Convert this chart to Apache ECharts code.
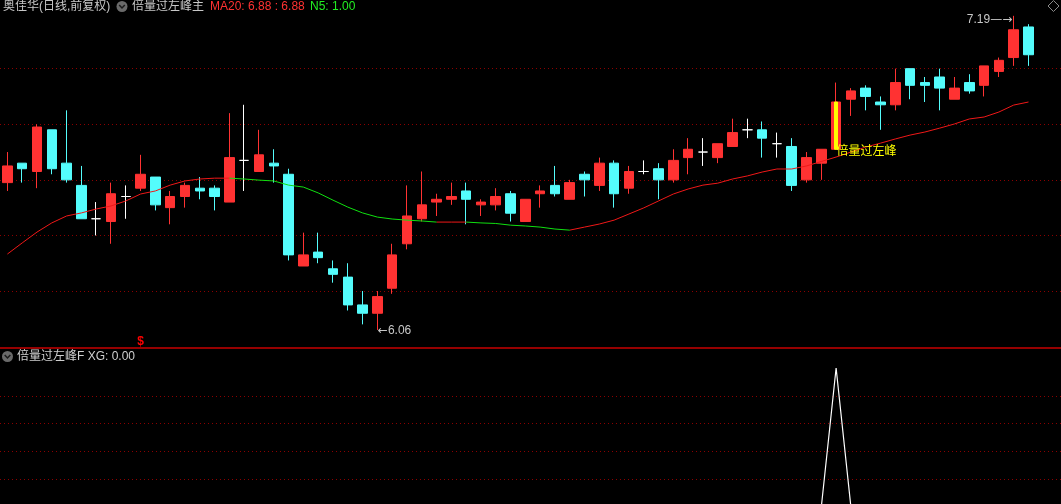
<!DOCTYPE html>
<html>
<head>
<meta charset="utf-8">
<script src="https://cdn.jsdelivr.net/npm/echarts@6/dist/echarts.min.js"></script>
<style>
html, body { margin: 0; padding: 0; background: #000; }
#main { width: 1061px; height: 504px; }
</style>
</head>
<body>
<div id="main"></div>
<script>
// daily bars, oldest first
const open = [6.59, 6.66, 6.63, 6.78, 6.66, 6.58, 6.46, 6.45, 6.54, 6.57,
	6.61, 6.50, 6.54, 6.57, 6.57, 6.52, 6.67, 6.63, 6.66, 6.62,
	6.29, 6.34, 6.28, 6.25, 6.15, 6.12, 6.21, 6.37, 6.46, 6.52,
	6.53, 6.56, 6.51, 6.51, 6.55, 6.45, 6.55, 6.58, 6.53, 6.62,
	6.58, 6.66, 6.57, 6.63, 6.64, 6.60, 6.68, 6.70, 6.68, 6.72,
	6.78, 6.78, 6.73, 6.72, 6.60, 6.66, 6.71, 6.89, 6.93, 6.88,
	6.87, 7.00, 6.95, 6.97, 6.89, 6.95, 6.94, 6.99, 7.04, 7.15];
const close = [6.65, 6.64, 6.79, 6.64, 6.60, 6.46, 6.46, 6.55, 6.54, 6.62,
	6.51, 6.54, 6.58, 6.56, 6.54, 6.68, 6.67, 6.69, 6.65, 6.33,
	6.33, 6.32, 6.26, 6.15, 6.12, 6.18, 6.33, 6.47, 6.51, 6.53,
	6.54, 6.53, 6.52, 6.54, 6.48, 6.53, 6.56, 6.55, 6.59, 6.60,
	6.66, 6.55, 6.63, 6.63, 6.60, 6.67, 6.71, 6.70, 6.73, 6.77,
	6.78, 6.75, 6.73, 6.58, 6.68, 6.71, 6.88, 6.92, 6.90, 6.87,
	6.95, 6.94, 6.94, 6.93, 6.93, 6.92, 7.01, 7.03, 7.14, 7.05];
const low = [6.56, 6.59, 6.57, 6.62, 6.59, 6.46, 6.40, 6.37, 6.46, 6.56,
	6.49, 6.44, 6.50, 6.53, 6.49, 6.52, 6.56, 6.63, 6.59, 6.31,
	6.29, 6.30, 6.23, 6.13, 6.08, 6.06, 6.19, 6.35, 6.45, 6.47,
	6.51, 6.44, 6.47, 6.49, 6.45, 6.45, 6.50, 6.54, 6.53, 6.54,
	6.56, 6.50, 6.55, 6.62, 6.53, 6.59, 6.62, 6.65, 6.66, 6.72,
	6.75, 6.68, 6.68, 6.56, 6.59, 6.60, 6.71, 6.83, 6.85, 6.78,
	6.85, 6.89, 6.88, 6.85, 6.89, 6.91, 6.90, 6.97, 7.01, 7.01];
const high = [6.70, 6.66, 6.80, 6.78, 6.85, 6.65, 6.52, 6.59, 6.58, 6.69,
	6.61, 6.56, 6.59, 6.61, 6.58, 6.84, 6.87, 6.78, 6.71, 6.64,
	6.41, 6.41, 6.31, 6.30, 6.20, 6.20, 6.37, 6.58, 6.63, 6.55,
	6.59, 6.59, 6.53, 6.57, 6.56, 6.53, 6.58, 6.65, 6.60, 6.63,
	6.68, 6.67, 6.65, 6.67, 6.66, 6.71, 6.75, 6.75, 6.73, 6.82,
	6.82, 6.81, 6.77, 6.75, 6.70, 6.71, 6.95, 6.93, 6.94, 6.90,
	7.00, 7.00, 6.97, 7.00, 6.97, 6.98, 7.01, 7.04, 7.19, 7.16];
// MA20
const ma20 = [6.333, 6.373, 6.412, 6.445, 6.470, 6.481, 6.495, 6.506, 6.524, 6.549,
	6.560, 6.581, 6.596, 6.603, 6.606, 6.606, 6.603, 6.599, 6.596, 6.581,
	6.574, 6.553, 6.527, 6.502, 6.481, 6.466, 6.459, 6.455, 6.452, 6.448,
	6.448, 6.448, 6.445, 6.443, 6.437, 6.434, 6.430, 6.423, 6.419, 6.430,
	6.441, 6.455, 6.477, 6.499, 6.524, 6.549, 6.567, 6.581, 6.588, 6.603,
	6.614, 6.628, 6.639, 6.639, 6.650, 6.666, 6.682, 6.700, 6.718, 6.732,
	6.747, 6.761, 6.772, 6.786, 6.801, 6.819, 6.826, 6.844, 6.869, 6.880];
// XG signal (倍量过左峰F)
const xg = [0, 0, 0, 0, 0, 0, 0, 0, 0, 0,
	0, 0, 0, 0, 0, 0, 0, 0, 0, 0,
	0, 0, 0, 0, 0, 0, 0, 0, 0, 0,
	0, 0, 0, 0, 0, 0, 0, 0, 0, 0,
	0, 0, 0, 0, 0, 0, 0, 0, 0, 0,
	0, 0, 0, 0, 0, 0, 1, 0, 0, 0,
	0, 0, 0, 0, 0, 0, 0, 0, 0, 0];
const priceLevels = [6.2, 6.4, 6.6, 6.8, 7.0];
const xgLevels = [0.2, 0.4, 0.6, 0.8];
const n5Value = 1.00;
const dividendIdx = 9;

const UP = '#FF3232', DOWN = '#54FCFC';
const FONT = '12px "Liberation Sans", "Noto Sans CJK SC", sans-serif';
const priceMin = 5.995, priceMax = 7.247;
// sub pane: zero sits just below the bottom edge, so it is clipped
const xgMin = 0.0216, xgMax = 1.144;
const mainTop = 0, mainH = 348, subTop = 348, subH = 156;
const gLeft = -1.41, gWidth = 1037.3;

let idx = open.map((v, i) => String(i));
let kData = open.map((o, i) => [o, close[i], low[i], high[i]]);
let sigData = xg.map((v, i) => v ? [open[i], close[i], open[i], close[i]] : ['-', '-', '-', '-']);
let sigIdx = xg.indexOf(1);

// MA line colour: red when not falling, green when falling
let maRed = [], maGreen = [];
let segUp = ma20.map((v, i) => i > 0 ? v >= ma20[i - 1] : null);
for (let i = 0; i < ma20.length; i++) {
	let inRed = (segUp[i] === true) || (segUp[i + 1] === true);
	let inGreen = (segUp[i] === false) || (segUp[i + 1] === false);
	maRed.push(inRed ? ma20[i] : null);
	maGreen.push(inGreen ? ma20[i] : null);
}

let hiVal = Math.max(...high), hiIdx = high.indexOf(hiVal);
let loVal = Math.min(...low), loIdx = low.indexOf(loVal);
let lastMa = ma20[ma20.length - 1].toFixed(2);

// pixel band for dotted helper grids
let pTop = mainTop + (priceMax - priceLevels[priceLevels.length - 1]) / (priceMax - priceMin) * mainH;
let pH = (priceLevels[priceLevels.length - 1] - priceLevels[0]) / (priceMax - priceMin) * mainH;
let xTop = subTop + (xgMax - xgLevels[xgLevels.length - 1]) / (xgMax - xgMin) * subH;
let xH = (xgLevels[xgLevels.length - 1] - xgLevels[0]) / (xgMax - xgMin) * subH;

const dotted = { show: true, lineStyle: { color: '#8C0000', width: 1, type: [1, 3] } };
const hiddenY = { show: false, axisLine: { show: false }, splitLine: { show: false } };
const arrowRich = { a: { fontFamily: 'DejaVu Sans', fontSize: 12, color: '#C8C8C8' } };

let chart = echarts.init(document.getElementById('main'));
let option = {
	backgroundColor: '#000',
	animation: false,
	grid: [
		{ left: gLeft, width: gWidth, top: mainTop, height: mainH },
		{ left: gLeft, width: gWidth, top: subTop, height: subH },
		{ left: 0, right: 0, top: pTop, height: pH },
		{ left: 0, right: 0, top: xTop, height: xH }
	],
	xAxis: [
		{ type: 'category', gridIndex: 0, data: idx, boundaryGap: true, show: false },
		{ type: 'category', gridIndex: 1, data: idx, boundaryGap: true, show: false },
		{ type: 'value', gridIndex: 2, min: 0, max: 1, show: false },
		{ type: 'value', gridIndex: 3, min: 0, max: 1, show: false }
	],
	yAxis: [
		Object.assign({ type: 'value', gridIndex: 0, min: priceMin, max: priceMax }, hiddenY),
		Object.assign({ type: 'value', gridIndex: 1, min: xgMin, max: xgMax }, hiddenY),
		{ type: 'value', gridIndex: 2, min: priceLevels[0], max: priceLevels[priceLevels.length - 1], interval: 0.2,
			axisLine: { show: false }, axisTick: { show: false }, axisLabel: { show: false }, splitLine: dotted },
		{ type: 'value', gridIndex: 3, min: xgLevels[0], max: xgLevels[xgLevels.length - 1], interval: 0.2,
			axisLine: { show: false }, axisTick: { show: false }, axisLabel: { show: false }, splitLine: dotted }
	],
	series: [
		{
			name: 'K', type: 'candlestick', xAxisIndex: 0, yAxisIndex: 0,
			data: kData, barWidth: 10,
			itemStyle: { color: UP, color0: DOWN, borderColor: UP, borderColor0: DOWN, borderColorDoji: '#FFFFFF', borderWidth: 1 },
			markPoint: {
				symbol: 'circle', symbolSize: 1, itemStyle: { color: 'rgba(0,0,0,0)' },
				data: [
					{ coord: [hiIdx, hiVal], label: { show: true, position: 'left', distance: 1, offset: [0, 4],
						formatter: hiVal.toFixed(2) + '{a|—→}', color: '#C8C8C8', font: FONT, rich: arrowRich } },
					{ coord: [loIdx, loVal], label: { show: true, position: 'right', distance: 0, offset: [0, 1],
						formatter: '{a|←}' + loVal.toFixed(2), color: '#C8C8C8', font: FONT, rich: arrowRich } },
					{ coord: [dividendIdx, priceMin], label: { show: true, position: 'top', distance: 0,
						formatter: '$', color: '#FF0000', fontWeight: 'bold', fontSize: 12, fontFamily: 'Liberation Sans' } }
				]
			}
		},
		{
			name: 'signal', type: 'candlestick', xAxisIndex: 0, yAxisIndex: 0,
			data: sigData, barWidth: 4,
			itemStyle: { color: '#FFFF00', color0: '#FFFF00', borderColor: '#FFFF00', borderColor0: '#FFFF00', borderWidth: 1 },
			markPoint: {
				symbol: 'circle', symbolSize: 1, itemStyle: { color: 'rgba(0,0,0,0)' },
				data: [
					{ coord: [sigIdx, low[sigIdx]], label: { show: true, position: 'right', distance: 0, offset: [0, 1],
						formatter: '倍量过左峰', color: '#FFFF00', fontSize: 12, fontFamily: 'Noto Sans CJK SC' } }
				]
			}
		},
		{
			name: 'MA20', type: 'line', xAxisIndex: 0, yAxisIndex: 0, data: maRed,
			symbol: 'none', lineStyle: { color: '#F01818', width: 1 }, silent: true, z: 3
		},
		{
			name: 'MA20g', type: 'line', xAxisIndex: 0, yAxisIndex: 0, data: maGreen,
			symbol: 'none', lineStyle: { color: '#10E010', width: 1 }, silent: true, z: 3
		},
		{
			name: 'XG', type: 'line', xAxisIndex: 1, yAxisIndex: 1, data: xg, clip: true,
			symbol: 'none', lineStyle: { color: '#FFFFFF', width: 1.2 }, silent: true
		}
	],
	graphic: [
		{ type: 'rect', shape: { x: 0, y: 347.3, width: 1061, height: 1.4 }, style: { fill: '#C80000' }, z: 10 },
		{ type: 'text', x: 3, y: 6.5, style: { text: '奥佳华(日线,前复权)', fill: '#C8C8C8', font: FONT, textVerticalAlign: 'middle' } },
		{ type: 'circle', shape: { cx: 122, cy: 6.5, r: 5.5 }, style: { fill: '#6A6A6A' } },
		{ type: 'polyline', shape: { points: [[119.2, 5], [122, 8], [124.8, 5]] }, style: { stroke: '#1A1A1A', lineWidth: 1.5, fill: null } },
		{ type: 'text', x: 132, y: 6.5, style: { text: '倍量过左峰主', fill: '#C8C8C8', font: FONT, textVerticalAlign: 'middle' } },
		{ type: 'text', x: 210, y: 6.5, style: { text: 'MA20: ' + lastMa + ' : ' + lastMa, fill: '#FF3232', font: FONT, textVerticalAlign: 'middle' } },
		{ type: 'text', x: 310, y: 6.5, style: { text: 'N5: ' + n5Value.toFixed(2), fill: '#22EE22', font: FONT, textVerticalAlign: 'middle' } },
		{ type: 'polygon', shape: { points: [[1053.5, 0.5], [1059, 6], [1053.5, 11.5], [1048, 6]] }, style: { stroke: '#8A8A8A', fill: null, lineWidth: 1 } },
		{ type: 'circle', shape: { cx: 7.5, cy: 356.5, r: 5.5 }, style: { fill: '#6A6A6A' } },
		{ type: 'polyline', shape: { points: [[4.7, 355], [7.5, 358], [10.3, 355]] }, style: { stroke: '#1A1A1A', lineWidth: 1.5, fill: null } },
		{ type: 'text', x: 17, y: 356.5, style: { text: '倍量过左峰F XG: ' + xg[xg.length - 1].toFixed(2), fill: '#D0D0D0', font: FONT, textVerticalAlign: 'middle' } }
	]
};
chart.setOption(option);
</script>
</body>
</html>
